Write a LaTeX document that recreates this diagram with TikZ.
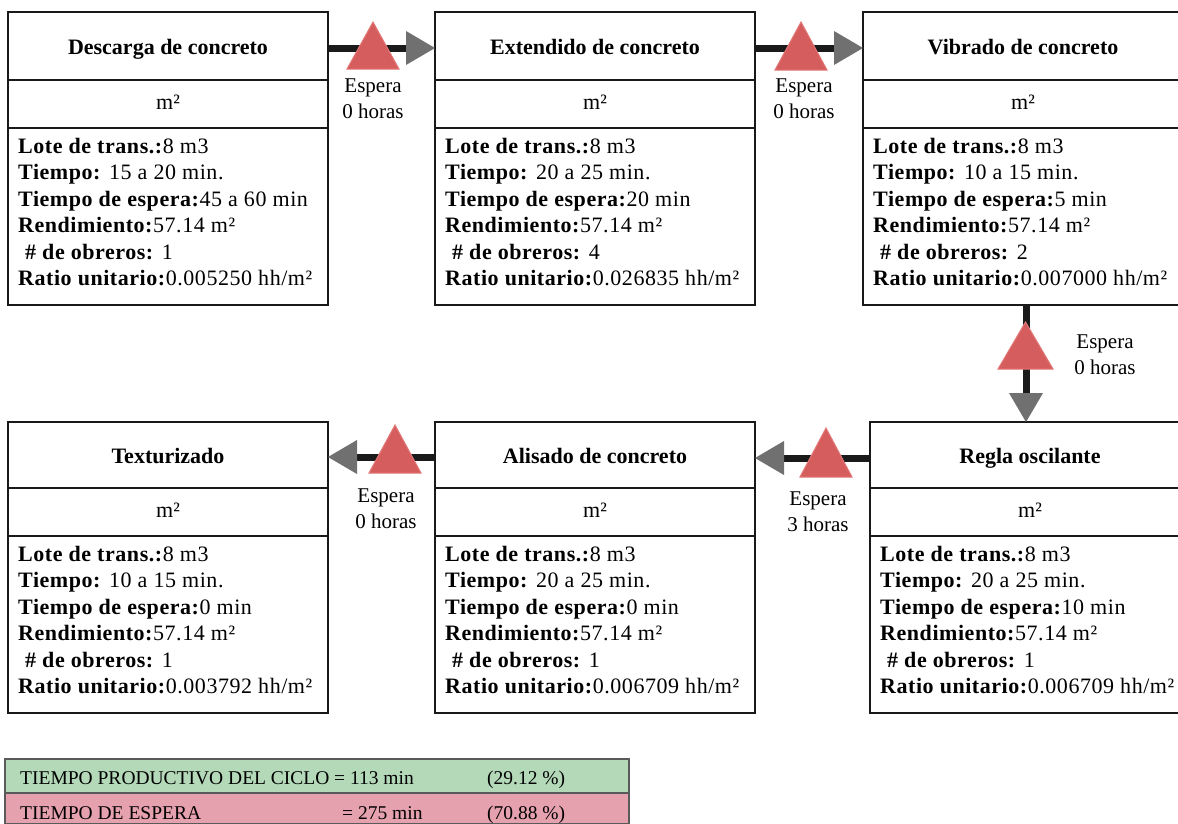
\documentclass[tikz,border=0pt]{standalone}
\usepackage{fontspec}
\setmainfont{Liberation Serif}
\newfontfamily\datafont{Liberation Serif}[LetterSpace=2.5]
\usetikzlibrary{arrows.meta}

\definecolor{linkblack}{HTML}{1A1A1A}
\definecolor{tipgray}{HTML}{707070}
\definecolor{waitred}{HTML}{D65D5D}
\definecolor{waitedge}{HTML}{E27777}
\definecolor{prodgreen}{HTML}{B4D9B9}
\definecolor{idlepink}{HTML}{E6A1AE}
\definecolor{rowline}{HTML}{5A5A5A}

\tikzset{
  box/.style={draw=black!90, line width=2pt, outer sep=0pt, inner sep=0pt,
    minimum width=320pt, anchor=north west},
  headbox/.style={box, minimum height=#1,
    font=\fontsize{22}{26}\selectfont\bfseries, text height=16pt, text depth=0pt},
  unitbox/.style={box, minimum height=48pt,
    font=\fontsize{22}{26}\selectfont, text height=11pt, text depth=0pt},
  bodybox/.style={box, minimum height=177pt},
  bodytext/.style={anchor=north west, inner sep=0pt, align=left,
    font=\datafont\fontsize{22}{26.5}\selectfont},
  link/.style={draw=linkblack, line width=7pt,
    -{Triangle[length=29pt,width=34pt,line width=0pt,color=tipgray]}},
  waitmark/.style={fill=waitred, draw=waitedge, line width=1pt},
  waitlabel/.style={align=center, inner sep=0pt, font=\fontsize{21}{26}\selectfont},
  rowbox/.style={draw=rowline, line width=1.6pt, outer sep=0pt, inner sep=0pt,
    anchor=north west, minimum width=624pt},
  rowtext/.style={anchor=base west, inner sep=0pt, font=\fontsize{19.5}{24}\selectfont},
}

% one process stage: header, unit row and data block
% #1 name, #2 x, #3 y, #4 header height, #5 title,
% #6 tiempo, #7 espera, #8 obreros, #9 ratio
\newcommand\stage[9]{%
  \node[headbox=#4] (#1) at (#2,#3) {#5};
  \node[unitbox] (#1u) at (#1.south west) {m²};
  \node[bodybox] (#1b) at (#1u.south west) {};
  \node[bodytext] (#1t) at ([xshift=10pt,yshift=-10pt]#1b.north west)
    {\textbf{Lote de trans.:}8 m3\\
     \textbf{Tiempo:} #6\\
     \textbf{Tiempo de espera:}#7\\
     \textbf{Rendimiento:}57.14 m²\\
     \hspace*{7pt}\textbf{\# de obreros:} #8\\
     \textbf{Ratio unitario:}#9 hh/m²};
}

\begin{document}
\begin{tikzpicture}[x=1pt,y=-1pt]
  \fill[white] (0,0) rectangle (1178,823);
  \useasboundingbox (0,0) rectangle (1178,823);

  % top row
  \stage{s1}{8}{12}{68pt}{Descarga de concreto}{15 a 20 min.}{45 a 60 min}{1}{0.005250}
  \stage{s2}{435}{12}{68pt}{Extendido de concreto}{20 a 25 min.}{20 min}{4}{0.026835}
  \stage{s3}{863}{12}{68pt}{Vibrado de concreto}{10 a 15 min.}{5 min}{2}{0.007000}
  % bottom row
  \stage{s6}{870}{422}{66pt}{Regla oscilante}{20 a 25 min.}{10 min}{1}{0.006709}
  \stage{s5}{435}{422}{66pt}{Alisado de concreto}{20 a 25 min.}{0 min}{1}{0.006709}
  \stage{s4}{8}{422}{66pt}{Texturizado}{10 a 15 min.}{0 min}{1}{0.003792}

  % flow between stages
  \coordinate (vx) at (1026,0);
  \draw[link] ([yshift=-2pt]s1.east) -- ([yshift=-2pt]s2.west);
  \draw[link] ([yshift=-2pt]s2.east) -- ([yshift=-2pt]s3.west);
  \draw[link] (s3b.south -| vx) -- (s6.north -| vx);
  \draw[link] ([yshift=-3pt]s6.west) -- ([yshift=-3pt]s5.east);
  \draw[link] ([yshift=-2pt]s5.west) -- ([yshift=-2pt]s4.east);

  % waiting markers
  \filldraw[waitmark] (347,69) -- (373,22) -- (399,69) -- cycle;
  \filldraw[waitmark] (775,70) -- (801,22) -- (827,70) -- cycle;
  \filldraw[waitmark] (998,369) -- (1025.5,322) -- (1053,369) -- cycle;
  \filldraw[waitmark] (800,477) -- (826,428) -- (852,477) -- cycle;
  \filldraw[waitmark] (369,473) -- (395,425) -- (421,473) -- cycle;

  \node[waitlabel] (w1) at (373,99) {Espera\\0 horas};
  \node[waitlabel] (w2) at (804,99) {Espera\\0 horas};
  \node[waitlabel] (w3) at (1105,355) {Espera\\0 horas};
  \node[waitlabel] (w4) at (818,512) {Espera\\3 horas};
  \node[waitlabel] (w5) at (386,509) {Espera\\0 horas};

  % cycle time summary
  \node[rowbox, fill=prodgreen, minimum height=34pt] (r1) at (5,759) {};
  \node[rowbox, fill=idlepink, minimum height=31pt] (r2) at (5,793) {};
  \node[rowtext] (r1a) at (20,784) {TIEMPO PRODUCTIVO DEL CICLO};
  \node[rowtext] (r1b) at (334,784) {= 113 min};
  \node[rowtext] (r1c) at (487,784) {(29.12 \%)};
  \node[rowtext] (r2a) at (20,819) {TIEMPO DE ESPERA};
  \node[rowtext] (r2b) at (342,819) {= 275 min};
  \node[rowtext] (r2c) at (487,819) {(70.88 \%)};
\end{tikzpicture}
\end{document}
